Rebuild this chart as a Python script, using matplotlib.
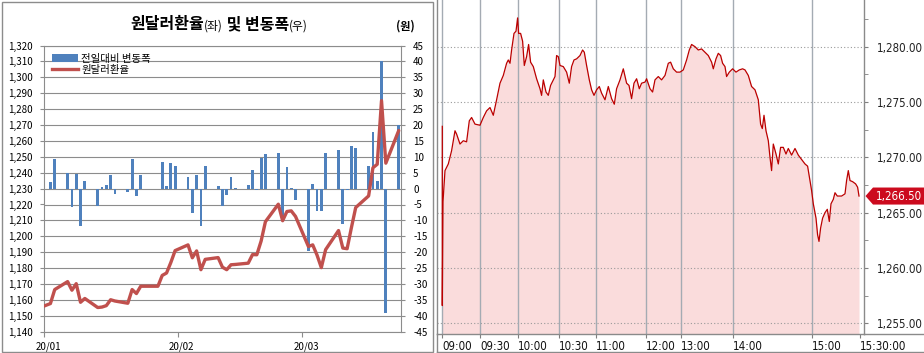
import matplotlib
matplotlib.use('Agg')
import matplotlib.pyplot as plt
import numpy as np
import pandas as pd
from matplotlib import font_manager as fm
from matplotlib.patches import Rectangle, Polygon, Patch
from matplotlib.lines import Line2D
from matplotlib.transforms import ScaledTranslation, blended_transform_factory

# ---------------- data: daily KRW/USD (left panel) ----------------
dates = ['2019-12-31', '2020-01-02', '2020-01-03', '2020-01-06', '2020-01-07', '2020-01-08',
         '2020-01-09', '2020-01-10', '2020-01-13', '2020-01-14', '2020-01-15', '2020-01-16',
         '2020-01-17', '2020-01-20', '2020-01-21', '2020-01-22', '2020-01-23', '2020-01-24',
         '2020-01-27', '2020-01-28', '2020-01-29', '2020-01-30', '2020-01-31', '2020-02-03',
         '2020-02-04', '2020-02-05', '2020-02-06', '2020-02-07', '2020-02-10', '2020-02-11',
         '2020-02-12', '2020-02-13', '2020-02-14', '2020-02-17', '2020-02-18', '2020-02-19',
         '2020-02-20', '2020-02-21', '2020-02-24', '2020-02-25', '2020-02-26', '2020-02-27',
         '2020-02-28', '2020-03-02', '2020-03-03', '2020-03-04', '2020-03-05', '2020-03-06',
         '2020-03-09', '2020-03-10', '2020-03-11', '2020-03-12', '2020-03-13', '2020-03-16',
         '2020-03-17', '2020-03-18', '2020-03-19', '2020-03-20', '2020-03-23']
rates = [1155.6, 1157.7, 1166.5, 1171.5, 1166.1, 1170.2,
         1158.5, 1160.9, 1155.2, 1155.5, 1156.4, 1160.1,
         1159.3, 1157.9, 1166.5, 1164.0, 1168.6, 1168.6,
         1168.6, 1175.4, 1176.9, 1183.5, 1191.0, 1194.6,
         1186.5, 1190.8, 1179.0, 1185.5, 1186.6, 1180.6,
         1179.0, 1182.1, 1182.3, 1183.1, 1188.5, 1188.4,
         1197.0, 1209.2, 1220.2, 1209.8, 1215.6, 1216.0,
         1212.5, 1193.6, 1194.6, 1188.2, 1180.3, 1191.6,
         1203.6, 1192.6, 1192.2, 1205.5, 1218.1, 1225.4,
         1243.1, 1245.3, 1285.3, 1246.0, 1266.5]
changes = [np.nan, 2.1, 9.2, 5.0, -5.7, 4.5,
           -11.7, 2.3, -5.4, 0.4, 1.0, 4.2,
           -1.7, -1.2, 9.2, -2.3, 4.2, 0.0,
           0.0, 8.3, 0.7, 8.0, 7.0, 3.5,
           -7.7, 4.2, -11.7, 7.0, 0.7, -5.4,
           -2.0, 3.5, 0.3, 1.0, 5.7, -0.5,
           9.5, 10.8, 11.1, -9.8, 6.8, 0.3,
           -3.6, -19.5, 1.6, -7.2, -6.9, 11.2,
           12.0, -11.2, -0.3, 13.5, 12.9, 7.0,
           17.7, 2.3, 40.0, -39.2, 20.0]
month_ticks = ['2020-01-01', '2020-02-01', '2020-03-01']
month_labels = ['20/01', '20/02', '20/03']
axis_end = '2020-03-24'
left_ticks = list(range(1140, 1321, 10))
right_ticks = list(range(-45, 46, 5))
title_parts = ['원달러환율', '(좌)', ' 및 변동폭', '(우)']
unit_label = '(원)'
legend_labels = ['전일대비 변동폭', '원달러환율']

# ---------------- data: intraday 2020-03-23 (right panel) ----------------
intraday_idx = [0, 0, 0.7, 2.7, 6, 9.3, 12.7, 14.3, 17.7, 21, 24.3, 27, 29.3, 32.7, 37.7, 41, 44.3,
                47.7, 51, 54.3, 57.7, 61, 64.3, 66, 67.7, 69.3, 71.7, 73.7, 75.3, 76.3, 78.3, 80.3,
                82, 84.3, 86.3, 88.3, 91, 94.3, 97.7, 99.3, 101, 103.7, 106, 108.3, 111, 112.7,
                114.3, 116, 117.7, 121, 124.3, 127, 129.3, 131.7, 134.3, 137.7, 140.3, 142, 144.3,
                147, 149.3, 151.7, 154.3, 157, 159.3, 162.7, 166, 169.3, 172, 174.3, 177.7, 181,
                184.3, 186.7, 189.3, 191.7, 194.3, 197, 199.3, 202.7, 204.3, 207.7, 210.3, 212.7,
                216, 219.3, 222.7, 226, 228.3, 231, 234.3, 237.7, 241, 244.3, 247, 249.3, 252.7,
                256, 259.3, 262.7, 266, 269.3, 271, 273.7, 276, 278.3, 280.3, 282.7, 284.3, 287,
                290.3, 293.7, 297, 300.3, 302.7, 306, 309.3, 312.7, 316, 318.3, 320, 321.7, 323.7,
                326, 327.7, 329.3, 331, 333.7, 336, 338.3, 341, 343.7, 346, 349.3, 352.7, 356,
                359.3, 362.7, 365.3, 367.7, 369.3, 371, 373.7, 375.3, 376.7, 378.3, 380.3, 382.7,
                385, 387, 388.7, 391, 392.7, 395, 399.3, 402.7, 404.3, 406, 407.7, 410.3, 413.3,
                415.3, 416.7]
intraday_rate = [1272.8, 1256.6, 1266.0, 1268.8, 1269.4, 1270.6, 1272.4, 1272.1, 1271.2, 1271.5,
                 1271.4, 1273.3, 1273.6, 1273.0, 1272.9, 1273.6, 1274.2, 1274.5, 1273.8, 1275.2,
                 1276.7, 1277.4, 1278.5, 1278.8, 1278.5, 1279.7, 1281.2, 1281.4, 1282.6, 1281.2,
                 1281.2, 1280.5, 1278.3, 1279.1, 1280.2, 1278.6, 1278.2, 1277.1, 1276.2, 1275.6,
                 1277.0, 1275.9, 1275.6, 1276.5, 1277.0, 1277.3, 1279.2, 1279.1, 1278.3, 1278.2,
                 1277.7, 1276.7, 1278.2, 1278.8, 1278.9, 1279.2, 1279.7, 1279.5, 1278.3, 1277.0,
                 1276.1, 1275.6, 1276.1, 1276.4, 1275.8, 1275.2, 1276.4, 1275.3, 1274.8, 1276.2,
                 1277.0, 1278.0, 1276.7, 1276.5, 1275.3, 1276.7, 1277.1, 1276.2, 1276.7, 1276.8,
                 1277.1, 1276.2, 1275.9, 1277.0, 1277.3, 1277.0, 1277.4, 1278.5, 1278.6, 1278.0,
                 1277.7, 1277.7, 1277.9, 1278.8, 1279.7, 1280.2, 1280.0, 1279.7, 1279.8, 1279.5,
                 1279.2, 1278.6, 1278.0, 1278.9, 1279.4, 1279.2, 1278.5, 1278.2, 1277.3, 1277.7,
                 1278.0, 1277.7, 1277.9, 1278.0, 1277.9, 1277.4, 1276.4, 1276.1, 1275.2, 1273.0,
                 1272.6, 1273.8, 1272.4, 1271.5, 1270.0, 1268.8, 1271.2, 1270.3, 1269.4, 1270.9,
                 1270.9, 1270.3, 1270.8, 1270.2, 1270.8, 1270.2, 1269.8, 1269.4, 1269.2, 1267.9,
                 1267.0, 1265.8, 1264.5, 1263.0, 1262.4, 1263.6, 1264.5, 1265.0, 1265.3, 1264.2,
                 1265.8, 1266.2, 1266.8, 1266.5, 1266.5, 1266.7, 1267.9, 1268.8, 1267.9, 1267.8,
                 1267.6, 1267.3, 1266.5]
time_tick_idx = [0, 37.7, 76, 116.3, 153.3, 203.3, 239, 291, 370, 417.7]
time_labels = ['09:00', '09:30', '10:00', '10:30', '11:00', '12:00', '13:00', '14:00', '15:00', '15:30:00']
intraday_yticks = [1255, 1260, 1265, 1270, 1275, 1280]
intraday_minor = [1257.5, 1262.5, 1267.5, 1272.5, 1277.5, 1282.5]

# ---------------- fonts ----------------
KR = ['Noto Sans CJK KR', 'DejaVu Sans']
_ttf = fm.fontManager.ttflist
_names = {f.name for f in _ttf}
if 'Liberation Sans Narrow' in _names:
    NARROW = dict(family=['Liberation Sans Narrow', 'DejaVu Sans'], size=10, stretch='normal')
elif any(f.name == 'DejaVu Sans' and f.stretch == 'condensed' for f in _ttf):
    NARROW = dict(family=['DejaVu Sans'], size=8.3, stretch='condensed')
elif 'Roboto Condensed' in _names:
    NARROW = dict(family=['Roboto Condensed', 'DejaVu Sans'], size=9.5, stretch='normal')
else:
    NARROW = dict(family=['Roboto', 'DejaVu Sans'], size=8.2, stretch='condensed')
NFP = fm.FontProperties(family=NARROW['family'], size=NARROW['size'], stretch=NARROW['stretch'])

# ---------------- figure ----------------
W, H, DPI = 924, 353, 100
fig = plt.figure(figsize=(W / DPI, H / DPI), dpi=DPI)
fig.patch.set_facecolor('white')

def fx(px):
    return px / W

def fy(py):
    return 1 - py / H

GRID = '#8c8c8c'
BLUE = '#4f81bd'
RED = '#c0504d'

# ---------------- left panel ----------------
ax_bar = fig.add_axes([fx(44.4), fy(331.7), fx(401.3) - fx(44.4), fy(45.5) - fy(331.7)])
ax_line = ax_bar.twinx()
base = pd.Timestamp('2020-01-01')
xd = np.array((pd.to_datetime(dates) - base).days, dtype=float) + 0.4
ax_bar.bar(xd, changes, width=0.65, color=BLUE, zorder=2)
ax_bar.set_xlim(0, (pd.Timestamp(axis_end) - base).days)
ax_bar.set_ylim(-45, 45)
ax_bar.yaxis.tick_right()
ax_bar.set_yticks(right_ticks)
ax_bar.set_yticklabels([str(v) for v in right_ticks], fontfamily=KR, fontsize=7)
ax_bar.grid(axis='y', color=GRID, lw=0.8, zorder=0)
ax_bar.set_axisbelow(True)
xt = [(pd.Timestamp(d) - base).days for d in month_ticks]
ax_bar.set_xticks(xt)
ax_bar.set_xticklabels(month_labels, fontfamily=KR, fontsize=7)
ax_bar.tick_params(axis='y', length=3, color=GRID, pad=5.5, right=True, left=False,
                   labelright=True, labelleft=False)
ax_bar.tick_params(axis='x', length=3.5, color=GRID, pad=3.5)
for lbl in ax_bar.get_xticklabels():
    lbl.set_transform(lbl.get_transform() + ScaledTranslation(4 / DPI, 0, fig.dpi_scale_trans))
for s in ax_bar.spines.values():
    s.set_color(GRID)
    s.set_linewidth(0.8)

ax_line.plot(xd, rates, color=RED, lw=2.4, solid_joinstyle='round', solid_capstyle='round', zorder=3)
ax_line.set_ylim(1140, 1320)
ax_line.yaxis.tick_left()
ax_line.set_yticks(left_ticks)
ax_line.set_yticklabels([f'{v:,}' for v in left_ticks], fontfamily=KR, fontsize=7)
ax_line.tick_params(axis='y', length=3, color=GRID, pad=5.5, left=True, right=False,
                    labelleft=True, labelright=False)
for s in ax_line.spines.values():
    s.set_visible(False)

handles = [Patch(facecolor=BLUE, edgecolor='none'), Line2D([], [], color=RED, lw=2.4)]
leg = ax_line.legend(handles, legend_labels, loc='upper left', bbox_to_anchor=(0.022, 0.972),
                     frameon=False, prop={'family': KR, 'size': 7.5}, handlelength=2.5,
                     handletextpad=0.3, labelspacing=0.15, borderpad=0, borderaxespad=0)

# title composed of large + small parts
renderer = fig.canvas.get_renderer()
sizes = [11.5, 8.5, 11.5, 8.5]
weights = ['bold', 'normal', 'bold', 'normal']
txts = []
total = 0
for s, fs, wgt in zip(title_parts, sizes, weights):
    t = fig.text(0, fy(29.5), s, fontsize=fs, fontweight=wgt, fontfamily=KR, va='baseline', ha='left')
    w = t.get_window_extent(renderer).width
    txts.append((t, w))
    total += w
cur = 219 - total / 2
for t, w in txts:
    t.set_x(fx(cur))
    cur += w
fig.text(fx(405), fy(26), unit_label, fontsize=8, fontweight='bold', fontfamily=KR, ha='center', va='center')

fig.add_artist(Rectangle((fx(1.5), fy(351.5)), fx(433) - fx(1.5), fy(1.5) - fy(351.5),
                         transform=fig.transFigure, fill=False, ec='#8c8c8c', lw=1))

# ---------------- right panel ----------------
axr = fig.add_axes([fx(436.5), fy(334), fx(864) - fx(436.5), fy(0) - fy(334)])
ylo, yhi = 1254.03, 1284.22
axr.set_xlim(-5.8, 421.7)
axr.set_ylim(ylo, yhi)
axr.fill_between(intraday_idx, intraday_rate, ylo, color='#fadcdc', lw=0, zorder=1)
for v in intraday_yticks:
    axr.axhline(v, color='#9a9a9a', lw=0.8, ls=(0, (1, 2)), zorder=1.5)
for t in time_tick_idx[:-1]:
    axr.axvline(t, color='#a4abb3', lw=1.0, zorder=1.5)
axr.plot(intraday_idx, intraday_rate, color='#bb0000', lw=0.9, zorder=2)
axr.yaxis.tick_right()
axr.set_yticks(intraday_yticks)
axr.set_yticklabels([f'{v:,.2f}' for v in intraday_yticks], color='#222222')
for lbl in axr.get_yticklabels():
    lbl.set_fontproperties(NFP)
axr.set_yticks(intraday_minor, minor=True)
axr.tick_params(axis='y', which='both', length=3, color='#7f7f7f', pad=6.5, right=True, left=False)
axr.set_xticks(time_tick_idx)
axr.set_xticklabels(time_labels, color='#111111')
for lbl in axr.get_xticklabels():
    lbl.set_fontproperties(NFP)
    lbl.set_ha('left')
axr.tick_params(axis='x', length=3, color='#7f7f7f', pad=1.5)
axr.spines['top'].set_visible(False)
for k in ['left', 'right', 'bottom']:
    axr.spines[k].set_color('#8a8a8a')
    axr.spines[k].set_linewidth(1.0)

# axis line extension and panel border
fig.add_artist(Line2D([fx(864), 1], [fy(334), fy(334)], color='#8a8a8a', lw=1.0, transform=fig.transFigure))
fig.add_artist(Line2D([fx(436.5), fx(436.5)], [fy(334), fy(351.5)], color='#8a8a8a', lw=1.0, transform=fig.transFigure))
fig.add_artist(Line2D([fx(436.5), 1], [fy(351.5), fy(351.5)], color='#8a8a8a', lw=1.0, transform=fig.transFigure))

# last-value marker
last = intraday_rate[-1]
blend = blended_transform_factory(fig.transFigure, axr.transData)
hh = 0.77
poly = Polygon([(fx(865.5), last), (fx(873), last + hh), (1.0, last + hh), (1.0, last - hh), (fx(873), last - hh)],
               closed=True, transform=blend, clip_on=False, facecolor='#cc0a1e', edgecolor='none', zorder=6)
axr.add_patch(poly)
axr.text(fx(876), last, f'{last:,.2f}', transform=blend, color='white', fontproperties=NFP,
         va='center', ha='left', zorder=7, clip_on=False)

fig.savefig('out.png', dpi=DPI, facecolor='white')
